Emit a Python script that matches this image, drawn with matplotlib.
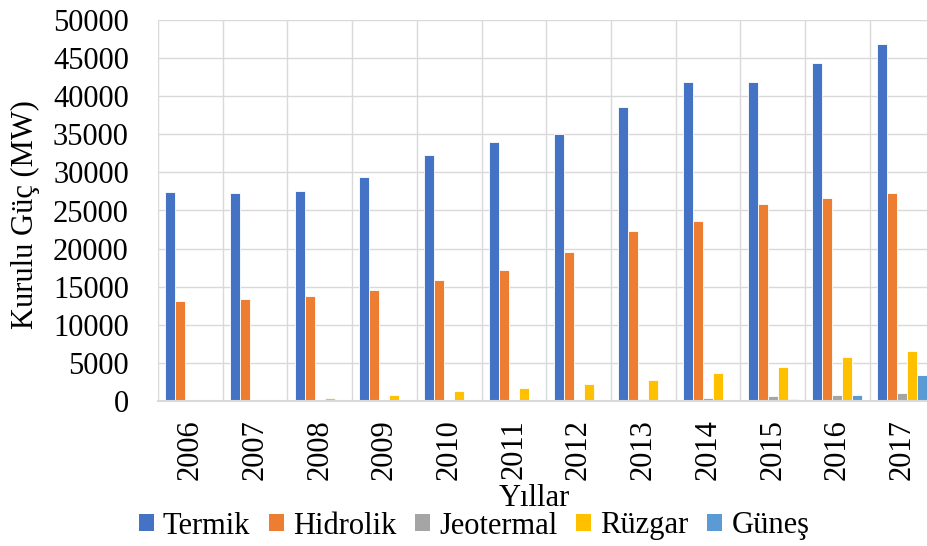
import numpy as np
import matplotlib.pyplot as plt
from matplotlib.patches import Patch

# installed capacity (MW)
years = ['2006', '2007', '2008', '2009', '2010', '2011',
         '2012', '2013', '2014', '2015', '2016', '2017']
termik = [27420, 27272, 27595, 29339, 32279, 34047,
          35027, 38648, 41802, 41903, 44407, 46900]
hidrolik = [13063, 13395, 13829, 14553, 15831, 17137,
            19609, 22289, 23643, 25868, 26681, 27273]
jeotermal = [23, 23, 30, 77, 94, 114, 162, 311, 405, 624, 821, 1064]
ruzgar = [59, 147, 364, 792, 1320, 1729, 2261, 2760, 3630, 4503, 5751, 6516]
gunes = [0, 0, 0, 0, 0, 0, 0, 0, 40, 249, 819, 3421]

names = ['Termik', 'Hidrolik', 'Jeotermal', 'Rüzgar', 'Güneş']
colors = ['#4472C4', '#ED7D31', '#A5A5A5', '#FFC000', '#5B9BD5']
series = [termik, hidrolik, jeotermal, ruzgar, gunes]

plt.rcParams['font.family'] = ['Liberation Serif', 'DejaVu Serif']
fs = 22

fig = plt.figure(figsize=(9.27, 5.46), dpi=100)
# plot area runs a little past the right edge, as in the original
ax = fig.add_axes([158/927, 145/546, (934.5-158)/927, 381/546])

x = np.arange(len(years))
w = 0.1545
for i in range(len(series)):
    ax.bar(x + (i - 2) * w, series[i], w, color=colors[i],
           edgecolor='white', linewidth=0.6, zorder=3)

ax.set_xlim(-0.5, len(years) - 0.5)
ax.set_ylim(0, 50000)
ax.set_yticks(np.arange(0, 50001, 5000))
ax.set_xticks(x)
ax.set_xticklabels(years, rotation=90)
ax.set_xticks(np.arange(-0.5, len(years)), minor=True)

ax.grid(axis='y', color='#D9D9D9', linewidth=1.0, zorder=0)
ax.grid(axis='x', which='minor', color='#D9D9D9', linewidth=1.0, zorder=0)
ax.grid(axis='x', which='major', visible=False)
for s in ['top', 'right', 'left']:
    ax.spines[s].set_visible(False)
ax.spines['bottom'].set_color('#D9D9D9')
ax.spines['bottom'].set_linewidth(1.5)
ax.spines['bottom'].set_zorder(4)

ax.tick_params(axis='both', which='both', length=0, labelsize=fs)
ax.tick_params(axis='y', pad=21)
ax.tick_params(axis='x', pad=13)

fig.text(25/927, 1 - 215/546, 'Kurulu Güç (MW)', rotation=90,
         ha='center', va='center', fontsize=fs)
fig.text(534/927, 1 - 499/546, 'Yıllar', ha='center', va='center', fontsize=fs)

handles = [Patch(facecolor=c, edgecolor='none') for c in colors]
fig.legend(handles, names, loc='center', ncol=5, frameon=False, fontsize=fs,
           bbox_to_anchor=(474/927, 1 - 526/546),
           handlelength=0.5, handleheight=0.5, handletextpad=0.3,
           columnspacing=0.6, borderpad=0)

fig.savefig('out.png', dpi=100)
